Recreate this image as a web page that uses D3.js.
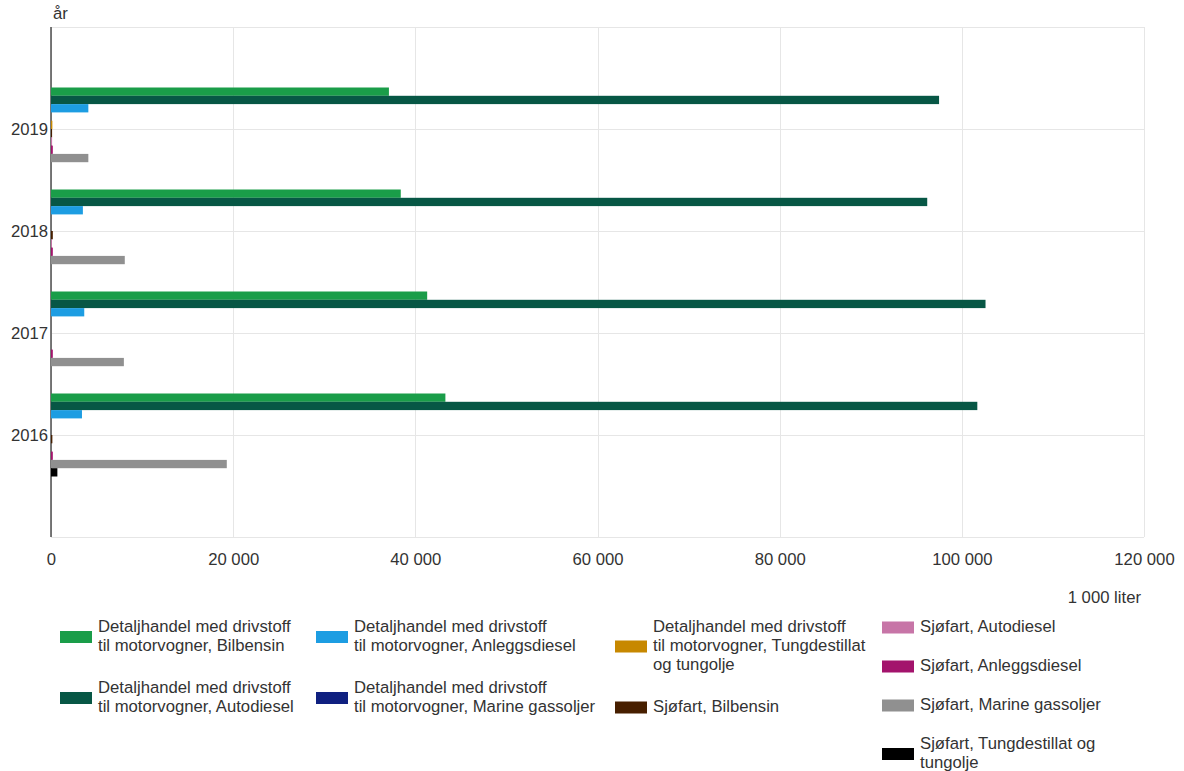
<!DOCTYPE html>
<html>
<head>
<meta charset="utf-8">
<script src="https://cdn.jsdelivr.net/npm/d3@7"></script>
<style>
  html, body { margin: 0; padding: 0; background: #fff; }
  svg { display: block; font-family: "Liberation Sans", Arial, sans-serif; }
</style>
</head>
<body>
<svg id="chart" width="1184" height="771"></svg>
<script>
// ---- DATA ----
const years = ["2019", "2018", "2017", "2016"];
const seriesNames = [
  "Detaljhandel med drivstoff til motorvogner, Bilbensin",
  "Detaljhandel med drivstoff til motorvogner, Autodiesel",
  "Detaljhandel med drivstoff til motorvogner, Anleggsdiesel",
  "Detaljhandel med drivstoff til motorvogner, Marine gassoljer",
  "Detaljhandel med drivstoff til motorvogner, Tungdestillat og tungolje",
  "Sjøfart, Bilbensin",
  "Sjøfart, Autodiesel",
  "Sjøfart, Anleggsdiesel",
  "Sjøfart, Marine gassoljer",
  "Sjøfart, Tungdestillat og tungolje"
];
// values per series, in order of years [2019, 2018, 2017, 2016] (1 000 liter)
const bilbensin      = [37100, 38400, 41300, 43300];
const autodiesel     = [97500, 96200, 102600, 101700];
const anleggsdiesel  = [4100, 3500, 3650, 3400];
const marineGass     = [0, 0, 0, 0];
const tungdestillat  = [150, 0, 0, 0];
const sjoBilbensin   = [120, 200, 0, 150];
const sjoAutodiesel  = [120, 100, 0, 0];
const sjoAnlegg      = [200, 200, 200, 200];
const sjoMarine      = [4100, 8100, 8000, 19300];
const sjoTung        = [0, 0, 0, 700];
const seriesValues = [bilbensin, autodiesel, anleggsdiesel, marineGass, tungdestillat,
                      sjoBilbensin, sjoAutodiesel, sjoAnlegg, sjoMarine, sjoTung];
const colors = ["#1a9d49", "#075745", "#1d9de2", "#0f2080", "#c78800",
                "#471f00", "#c775a7", "#a3136c", "#909090", "#000000"];
const xTicks = [0, 20000, 40000, 60000, 80000, 100000, 120000];
// legend columns (indices into seriesNames) and line breaks
const legendColumns = [[0, 1], [2, 3], [4, 5], [6, 7, 8, 9]];
const legendLines = [
  ["Detaljhandel med drivstoff", "til motorvogner, Bilbensin"],
  ["Detaljhandel med drivstoff", "til motorvogner, Autodiesel"],
  ["Detaljhandel med drivstoff", "til motorvogner, Anleggsdiesel"],
  ["Detaljhandel med drivstoff", "til motorvogner, Marine gassoljer"],
  ["Detaljhandel med drivstoff", "til motorvogner, Tungdestillat", "og tungolje"],
  ["Sjøfart, Bilbensin"],
  ["Sjøfart, Autodiesel"],
  ["Sjøfart, Anleggsdiesel"],
  ["Sjøfart, Marine gassoljer"],
  ["Sjøfart, Tungdestillat og", "tungolje"]
];

// ---- LAYOUT ----
(function () {
const svg = d3.select("#chart");
const pLeft = 51, pRight = 1144, pTop = 27, pBottom = 537;
const textColor = "#333333";
const fontSize = 16.7;

const x = d3.scaleLinear().domain([0, 120000]).range([pLeft, pRight]);
const y = d3.scalePoint().domain(years).range([pTop, pBottom]).padding(1);
const groupH = 83;
const inner = d3.scaleBand().domain(d3.range(seriesNames.length)).range([-groupH / 2, groupH / 2]);

const fmt = v => d3.format(",")(v).replace(/,/g, " ");

// gridlines
const g = svg.append("g");
g.selectAll("line.vx").data(xTicks).join("line")
  .attr("x1", d => Math.round(x(d)) + 0.5).attr("x2", d => Math.round(x(d)) + 0.5)
  .attr("y1", pTop).attr("y2", pBottom)
  .attr("stroke", "#e6e6e6").attr("stroke-width", 1);
const hLines = [pTop].concat(years.map(d => y(d))).concat([pBottom]);
g.selectAll("line.hy").data(hLines).join("line")
  .attr("x1", pLeft).attr("x2", pRight)
  .attr("y1", d => Math.round(d) + 0.5).attr("y2", d => Math.round(d) + 0.5)
  .attr("stroke", "#e6e6e6").attr("stroke-width", 1);

// y axis line (under bars)
svg.append("line")
  .attr("x1", pLeft).attr("x2", pLeft)
  .attr("y1", pTop).attr("y2", pBottom)
  .attr("stroke", "#222").attr("stroke-width", 1.2);

// bars
const bars = svg.append("g");
seriesValues.forEach((vals, si) => {
  bars.selectAll(null).data(vals.map((v, i) => ({ v, year: years[i] }))).join("rect")
    .attr("x", x(0))
    .attr("y", d => y(d.year) + inner(si))
    .attr("width", d => Math.max(0, x(d.v) - x(0)))
    .attr("height", inner.bandwidth())
    .attr("fill", colors[si]);
});

// x axis labels
const xAxis = d3.axisBottom(x).tickValues(xTicks).tickFormat(fmt).tickSize(0).tickPadding(0);
const xa = svg.append("g").attr("transform", `translate(0,${pBottom + 16})`).call(xAxis);
xa.select(".domain").remove();
xa.selectAll("text").attr("font-size", fontSize).attr("fill", textColor)
  .attr("font-family", "'Liberation Sans', Arial, sans-serif");

// y axis labels
const yAxis = d3.axisLeft(y).tickSize(0).tickPadding(3);
const ya = svg.append("g").attr("transform", `translate(${pLeft},0)`).call(yAxis);
ya.select(".domain").remove();
ya.selectAll("text").attr("font-size", fontSize).attr("fill", textColor)
  .attr("font-family", "'Liberation Sans', Arial, sans-serif");

// axis titles
svg.append("text").attr("x", 53).attr("y", 19).text("år")
  .attr("font-size", fontSize).attr("fill", textColor);
svg.append("text").attr("x", 1141).attr("y", 603).attr("text-anchor", "end").text("1 000 liter")
  .attr("font-size", fontSize).attr("fill", textColor);

// legend
const colX = [60, 316, 615, 882];
const lineH = 19;
const legend = svg.append("g");
legendColumns.forEach((col, ci) => {
  let yTop = 618;
  col.forEach(si => {
    const lines = legendLines[si];
    const h = lines.length * lineH;
    const item = legend.append("g");
    item.append("rect")
      .attr("x", colX[ci]).attr("y", yTop + h / 2 - 6)
      .attr("width", 32).attr("height", 12)
      .attr("fill", colors[si]);
    const t = item.append("text").attr("font-size", fontSize).attr("fill", textColor);
    lines.forEach((ln, li) => {
      t.append("tspan").attr("x", colX[ci] + 38).attr("y", yTop + li * lineH + 14).text(ln);
    });
    yTop += h + (lines.length === 1 ? 20 : 23);
  });
});
})();
</script>
</body>
</html>
